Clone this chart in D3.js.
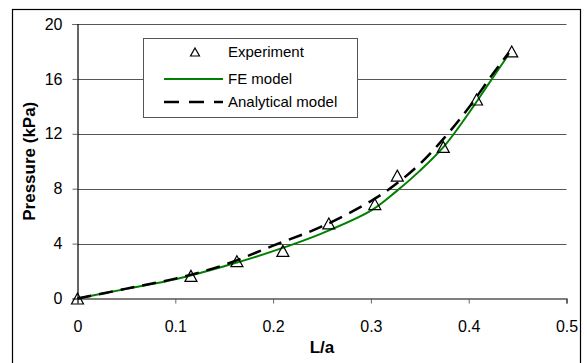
<!DOCTYPE html>
<html>
<head>
<meta charset="utf-8">
<script src="https://cdn.jsdelivr.net/npm/d3@7"></script>
<style>
  html, body { margin: 0; padding: 0; background: #fff; }
  svg text { font-family: "Liberation Sans", Arial, sans-serif; fill: #000; }
</style>
</head>
<body>
<div id="chart"></div>
<script>
// experiment points
const expL = [0, 0.116, 0.163, 0.210, 0.257, 0.304, 0.327, 0.374, 0.408, 0.444];
const expP = [0, 1.65, 2.72, 3.47, 5.47, 6.88, 8.95, 11.05, 14.5, 18.0];

// FE model curve
const feL = [0, 0.05, 0.1, 0.15, 0.2, 0.25, 0.3, 0.325, 0.35, 0.375, 0.4, 0.42, 0.441];
const feP = [0, 0.7, 1.4, 2.35, 3.45, 4.75, 6.4, 7.75, 9.3, 11.1, 13.5, 15.6, 17.8];

// analytical model curve
const anL = [0, 0.05, 0.1, 0.15, 0.2, 0.25, 0.3, 0.325, 0.35, 0.375, 0.4, 0.425, 0.441];
const anP = [0, 0.72, 1.45, 2.45, 3.85, 5.25, 7.1, 8.3, 9.8, 11.7, 13.9, 16.4, 17.9];

const xTicks = [0, 0.1, 0.2, 0.3, 0.4, 0.5];
const yTicks = [0, 4, 8, 12, 16, 20];
const legendLabels = ["Experiment", "FE model", "Analytical model"];

const width = 587, height = 363;
const plot = { left: 77.5, right: 566.5, top: 24, bottom: 298.5 };

const svg = d3.select("#chart").append("svg")
  .attr("width", width)
  .attr("height", height);

// outer chart border
svg.append("rect")
  .attr("x", 12.5).attr("y", 9.5)
  .attr("width", 568).attr("height", 360)
  .attr("fill", "none").attr("stroke", "#000").attr("stroke-width", 1.2);

const x = d3.scaleLinear().domain([0, 0.5]).range([plot.left, plot.right]);
const y = d3.scaleLinear().domain([0, 20]).range([plot.bottom, plot.top]);

// gridlines
svg.append("g")
  .selectAll("line")
  .data(yTicks.filter(d => d > 0))
  .enter().append("line")
    .attr("x1", plot.left).attr("x2", plot.right)
    .attr("y1", d => Math.round(y(d)) + 0.5).attr("y2", d => Math.round(y(d)) + 0.5)
    .attr("stroke", "#555").attr("stroke-width", 1);

// axes
const xAxis = svg.append("g")
  .attr("transform", "translate(0," + plot.bottom + ")")
  .call(d3.axisBottom(x).tickValues(xTicks).tickSize(5).tickPadding(17)
    .tickFormat(d => d === 0 ? "0" : d3.format(".1f")(d)));
const yAxis = svg.append("g")
  .attr("transform", "translate(" + plot.left + ",0)")
  .call(d3.axisLeft(y).tickValues(yTicks).tickSize(5).tickPadding(10));

[xAxis, yAxis].forEach(g => {
  g.select(".domain").attr("stroke", "#000").attr("stroke-width", 1.2);
  g.selectAll(".tick line").attr("stroke", "#666");
  g.selectAll("text").style("font-size", "16px").attr("fill", "#000");
});

// axis titles
svg.append("text")
  .attr("x", (plot.left + plot.right) / 2).attr("y", 353)
  .attr("text-anchor", "middle")
  .style("font-size", "17px").style("font-weight", "bold")
  .text("L/a");

svg.append("text")
  .attr("transform", "translate(35," + (plot.top + plot.bottom) / 2 + ") rotate(-90)")
  .attr("text-anchor", "middle")
  .style("font-size", "17px").style("font-weight", "bold")
  .text("Pressure (kPa)");

// lines
const line = d3.line()
  .x(d => x(d[0]))
  .y(d => y(d[1]))
  .curve(d3.curveCatmullRom.alpha(0.5));

svg.append("path")
  .datum(feL.map((l, i) => [l, feP[i]]))
  .attr("d", line)
  .attr("fill", "none").attr("stroke", "#008000").attr("stroke-width", 2);

svg.append("path")
  .datum(anL.map((l, i) => [l, anP[i]]))
  .attr("d", line)
  .attr("fill", "none").attr("stroke", "#000").attr("stroke-width", 2.5)
  .attr("stroke-dasharray", "14,8");

// triangle markers
function tri(cx, cy, w, h) {
  return "M" + cx + "," + (cy - h / 2) + "L" + (cx + w / 2) + "," + (cy + h / 2) +
    "L" + (cx - w / 2) + "," + (cy + h / 2) + "Z";
}

svg.append("g")
  .selectAll("path")
  .data(expL.map((l, i) => [l, expP[i]]))
  .enter().append("path")
    .attr("d", d => tri(x(d[0]), y(d[1]), 12, 11))
    .attr("fill", "none").attr("stroke", "#000").attr("stroke-width", 1.2);

// legend
const legend = svg.append("g");
legend.append("rect")
  .attr("x", 143.5).attr("y", 38.5)
  .attr("width", 214).attr("height", 79)
  .attr("fill", "#fff").attr("stroke", "#555").attr("stroke-width", 1);

const rowY = [52, 79, 102];
legend.append("path")
  .attr("d", tri(195, rowY[0], 9, 8))
  .attr("fill", "none").attr("stroke", "#000").attr("stroke-width", 1.2);
legend.append("line")
  .attr("x1", 164).attr("x2", 223).attr("y1", rowY[1]).attr("y2", rowY[1])
  .attr("stroke", "#008000").attr("stroke-width", 2);
legend.append("line")
  .attr("x1", 164).attr("x2", 223).attr("y1", rowY[2]).attr("y2", rowY[2])
  .attr("stroke", "#000").attr("stroke-width", 2.5)
  .attr("stroke-dasharray", "15,10");

legend.selectAll("text.lab")
  .data(legendLabels)
  .enter().append("text")
    .attr("class", "lab")
    .attr("x", 228)
    .attr("y", (d, i) => rowY[i])
    .attr("dy", "0.35em")
    .style("font-size", "15px")
    .text(d => d);
</script>
</body>
</html>
